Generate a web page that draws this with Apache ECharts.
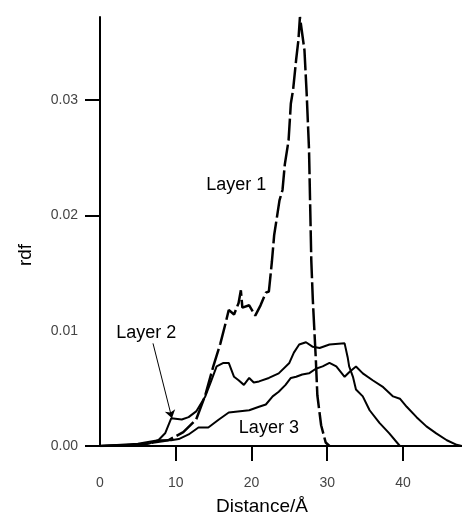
<!DOCTYPE html>
<html>
<head>
<meta charset="utf-8">
<script src="https://cdn.jsdelivr.net/npm/echarts@6/dist/echarts.min.js"></script>
<style>
html, body { margin: 0; padding: 0; background: #fff; }
#chart { width: 462px; height: 516px; }
</style>
</head>
<body>
<div id="chart"></div>
<script>
// values (distance in Å, rdf)
var layer1Dist = [0, 5, 7, 9, 11, 12.7, 13.9, 15.0, 15.9, 16.6, 17.0, 17.7, 18.3, 18.6, 18.8, 19.7, 20.5, 21.2, 21.9, 22.3, 22.7, 23.0, 23.4, 23.7, 24.1, 24.4, 24.9, 25.2, 25.5, 25.9, 26.2, 26.4, 27.0, 27.3, 27.6, 27.9, 28.1, 28.5, 28.7, 29.2, 29.8, 30.3];
var layer1Rdf = [0, 0.0001, 0.0003, 0.0005, 0.0012, 0.0023, 0.0044, 0.0070, 0.0089, 0.0107, 0.0118, 0.0114, 0.0124, 0.0135, 0.0120, 0.0122, 0.0113, 0.0122, 0.0133, 0.0134, 0.0160, 0.0183, 0.0200, 0.0213, 0.0222, 0.0244, 0.0265, 0.0297, 0.0309, 0.0335, 0.0352, 0.0372, 0.0343, 0.0304, 0.0257, 0.0161, 0.0127, 0.0075, 0.0044, 0.0018, 0.0003, 0];

var layer2Dist = [0, 5, 6.4, 7.7, 8.6, 9.4, 10.8, 11.7, 12.7, 13.9, 14.6, 15.4, 16.3, 17.0, 17.7, 18.3, 19.0, 19.7, 20.3, 21.0, 22.3, 23.6, 25.0, 25.6, 26.3, 27.2, 28.1, 29.0, 30.3, 32.3, 32.7, 32.9, 33.4, 33.8, 34.7, 35.6, 36.9, 38.2, 39.6];
var layer2Rdf = [0, 0.0001, 0.0002, 0.0005, 0.0011, 0.0024, 0.0023, 0.0025, 0.0030, 0.0043, 0.0055, 0.0069, 0.0072, 0.0072, 0.0060, 0.0057, 0.0053, 0.0059, 0.0055, 0.0056, 0.0059, 0.0063, 0.0072, 0.0081, 0.0088, 0.0090, 0.0086, 0.0085, 0.0088, 0.0089, 0.0077, 0.0069, 0.0060, 0.0049, 0.0043, 0.0031, 0.0020, 0.0011, 0];

var layer3Dist = [0, 5, 7.7, 9.4, 10.4, 11.7, 13.0, 14.3, 15.7, 17.0, 19.7, 21.0, 21.9, 22.8, 23.6, 24.5, 25.2, 25.9, 26.7, 27.6, 28.5, 29.4, 30.3, 31.2, 32.3, 32.9, 33.8, 34.7, 36.0, 37.4, 38.7, 39.6, 40.5, 41.8, 43.1, 44.4, 45.8, 47.1, 47.8];
var layer3Rdf = [0, 0.0002, 0.0005, 0.0005, 0.0006, 0.0010, 0.0016, 0.0016, 0.0023, 0.0029, 0.0031, 0.0034, 0.0036, 0.0043, 0.0047, 0.0053, 0.0059, 0.0060, 0.0062, 0.0063, 0.0067, 0.0069, 0.0072, 0.0069, 0.0060, 0.0064, 0.0069, 0.0063, 0.0057, 0.0051, 0.0043, 0.0041, 0.0034, 0.0025, 0.0017, 0.0011, 0.0005, 0.0001, 0];

var xTicks = [0, 10, 20, 30, 40];
var yTicks = [0, 0.01, 0.02, 0.03];
var xTickMarks = [10, 20, 30, 40];
var yTickMarks = [0, 0.02, 0.03];

// text labels on the plot: [distance, rdf]
var label1Pos = [18.0, 0.0226];
var label2Pos = [6.1, 0.0098];
var label3Pos = [22.3, 0.0016];
var arrowFrom = [7.0, 0.0089];
var arrowTo = [9.5, 0.0024];

function pairs(xs, ys) {
    var out = [];
    for (var i = 0; i < xs.length; i++) {
        out.push([xs[i], ys[i]]);
    }
    return out;
}

function textMark(pos, txt) {
    return {
        symbol: 'rect',
        symbolSize: 0,
        silent: true,
        data: [{
            coord: pos,
            label: {
                show: true,
                position: 'inside',
                formatter: txt,
                color: '#000',
                fontSize: 18,
                fontFamily: 'Liberation Sans, Arial, sans-serif'
            }
        }]
    };
}

var chart = echarts.init(document.getElementById('chart'));

var option = {
    animation: false,
    backgroundColor: '#fff',
    grid: { left: 100, right: 0, top: 17, bottom: 70 },
    xAxis: {
        type: 'value',
        min: 0,
        max: 47.8,
        splitLine: { show: false },
        axisLine: { lineStyle: { color: '#000', width: 2 } },
        axisTick: { customValues: xTickMarks, length: 15, lineStyle: { color: '#000', width: 2 } },
        axisLabel: {
            customValues: xTicks,
            margin: 30,
            color: '#444',
            fontSize: 14,
            fontFamily: 'Liberation Sans, Arial, sans-serif'
        }
    },
    yAxis: {
        type: 'value',
        min: 0,
        max: 0.0372,
        splitLine: { show: false },
        axisLine: { lineStyle: { color: '#000', width: 2 } },
        axisTick: { customValues: yTickMarks, length: 15, lineStyle: { color: '#000', width: 2 } },
        axisLabel: {
            customValues: yTicks,
            margin: 22,
            color: '#444',
            fontSize: 14,
            fontFamily: 'Liberation Sans, Arial, sans-serif',
            formatter: function (v) { return v.toFixed(2); }
        }
    },
    graphic: [
        {
            type: 'text',
            x: 262, y: 507,
            style: {
                text: 'Distance/Å', fill: '#000', fontSize: 19,
                fontFamily: 'Liberation Sans, Arial, sans-serif',
                align: 'center', verticalAlign: 'middle'
            }
        },
        {
            type: 'text',
            x: 26, y: 255,
            rotation: Math.PI / 2,
            style: {
                text: 'rdf', fill: '#000', fontSize: 19,
                fontFamily: 'Liberation Sans, Arial, sans-serif',
                align: 'center', verticalAlign: 'middle'
            }
        }
    ],
    series: [
        {
            name: 'Layer 1',
            type: 'line',
            data: pairs(layer1Dist, layer1Rdf),
            showSymbol: false,
            lineStyle: { color: '#000', width: 2.5, type: [22, 4] },
            markPoint: textMark(label1Pos, 'Layer 1'),
            z: 3
        },
        {
            name: 'Layer 2',
            type: 'line',
            data: pairs(layer2Dist, layer2Rdf),
            showSymbol: false,
            lineStyle: { color: '#000', width: 2 },
            markPoint: textMark(label2Pos, 'Layer 2'),
            markLine: {
                silent: true,
                symbol: ['none', 'arrow'],
                symbolSize: 8,
                label: { show: false },
                lineStyle: { color: '#000', width: 1, type: 'solid' },
                data: [[{ coord: arrowFrom }, { coord: arrowTo }]]
            },
            z: 2
        },
        {
            name: 'Layer 3',
            type: 'line',
            data: pairs(layer3Dist, layer3Rdf),
            showSymbol: false,
            lineStyle: { color: '#000', width: 2 },
            markPoint: textMark(label3Pos, 'Layer 3'),
            z: 2
        }
    ]
};

chart.setOption(option);
</script>
</body>
</html>
